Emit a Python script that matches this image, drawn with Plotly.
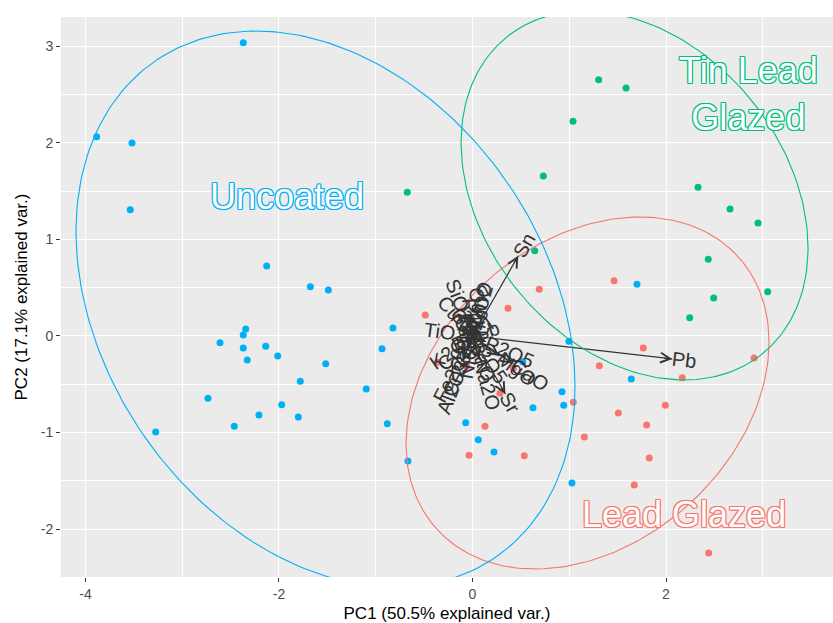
import math
import numpy as np
import plotly.graph_objects as go

# ---------------- data ----------------
uncoated_x = [-2.369, -3.884, -3.519, -3.537, -2.127, -1.676, -1.490, -2.344, -2.369, -2.610,
              -2.369, -2.328, -2.137, -2.013, -1.517, -1.780, -2.734, -1.972, -2.207, -2.462,
              -1.800, -3.274, -1.098, -0.935, -0.822, -0.881, -0.667, 1.700, 0.997, 0.519,
              1.641, 0.925, 0.943, 0.625, -0.070, 0.060, 0.222, 1.028]
uncoated_y = [3.036, 2.063, 1.998, 1.307, 0.725, 0.510, 0.476, 0.072, 0.010, -0.069,
              -0.124, -0.248, -0.107, -0.207, -0.287, -0.469, -0.645, -0.711, -0.818, -0.935,
              -0.839, -0.994, -0.549, -0.131, 0.083, -0.908, -1.294, 0.535, -0.055, -0.266,
              -0.445, -0.577, -0.717, -0.742, -0.898, -1.074, -1.201, -1.522]

tinlead_x = [-0.674, 1.304, 1.587, 1.039, 0.732, 2.331, 2.662, 2.951, 2.437, 0.643, 2.493, 3.051, 2.245]
tinlead_y = [1.488, 2.653, 2.567, 2.223, 1.656, 1.539, 1.315, 1.170, 0.794, 0.883, 0.393, 0.459, 0.189]

lead_x = [1.463, 0.690, 0.367, -0.488, -0.360, 1.765, 1.311, 2.168, 2.910, 1.993, 1.507, 1.800,
          1.042, 1.156, 1.827, 0.129, -0.036, 0.535, 1.672, 2.441, 0.284, 0.422, -0.060]
lead_y = [0.572, 0.483, 0.287, 0.217, -0.272, -0.124, -0.307, -0.432, -0.228, -0.717, -0.797, -0.921,
          -0.686, -1.046, -1.263, -0.935, -1.235, -1.239, -1.542, -2.246, -0.593, -0.334, -0.314]

# variable loadings (arrow tips)
var_names = ["Pb", "Sn", "Sr", "CaO", "MgO", "P2O5", "Na2O", "Al2O3", "Fe2O3", "K2O",
             "TiO2", "SiO2", "CuO", "ZnO", "MnO", "BaO", "Rb", "ZrO2", "Cl", "CoO", "NiO",
             "Cr2O3", "V2O5", "As", "Ag", "Sb", "Bi", "Ga"]
var_x = [2.065, 0.473, 0.340, 0.416, 0.277, 0.140, 0.070, -0.100, -0.060, -0.080,
         -0.060, -0.058, -0.050, 0.010, 0.030, 0.030, -0.010, 0.020, 0.040, -0.030, -0.015,
         -0.020, 0.020, 0.015, -0.010, 0.030, -0.040, -0.020]
var_y = [-0.238, 0.830, -0.600, -0.286, -0.207, -0.060, -0.240, -0.260, -0.114, -0.056,
         0.008, 0.153, 0.060, 0.100, 0.120, -0.080, 0.120, 0.070, 0.030, -0.030, -0.090,
         -0.050, -0.030, 0.040, 0.020, 0.010, -0.020, 0.030]

# group ellipses (centre and covariance of the drawn 68% ellipse)
ell_groups = ["Lead Glazed", "Tin Lead Glazed", "Uncoated"]
ell_cx = [1.189, 1.675, -1.519]
ell_cy = [-0.590, 1.455, 0.279]
ell_sxx = [3.519, 3.215, 6.651]
ell_syy = [3.320, 3.648, 8.283]
ell_sxy = [0.988, -0.978, -2.069]

group_label_text = ["Lead Glazed", "Tin Lead<br>Glazed", "Uncoated"]
group_label_x = [2.184, 2.848, -1.915]
group_label_y = [-1.850, 2.510, 1.449]

colors = {"Lead Glazed": "#F8766D", "Tin Lead Glazed": "#00BF7D", "Uncoated": "#00B0F6"}

x_ticks = [-4, -2, 0, 2]
y_ticks = [-2, -1, 0, 1, 2, 3]
x_range = [-4.253, 3.726]
y_range = [-2.495, 3.302]

# ---------------- layout geometry ----------------
W, H = 833, 623
ML, MR, MT, MB = 61, 0, 17, 46
pxx = (W - ML - MR) / (x_range[1] - x_range[0])
pxy = (H - MT - MB) / (y_range[1] - y_range[0])
FONT = "Liberation Sans, Arial, Helvetica, sans-serif"
VAR_FS = 20
ARROW_COL = "#333333"

fig = go.Figure()

# arrow shafts (drawn first, under the points)
sx, sy = [], []
for vx, vy in zip(var_x, var_y):
    sx += [0, vx, None]
    sy += [0, vy, None]
fig.add_trace(go.Scatter(x=sx, y=sy, mode="lines", line=dict(color=ARROW_COL, width=1.2),
                         showlegend=False, hoverinfo="skip"))

# points
for name, xs, ys in [("Lead Glazed", lead_x, lead_y),
                     ("Tin Lead Glazed", tinlead_x, tinlead_y),
                     ("Uncoated", uncoated_x, uncoated_y)]:
    fig.add_trace(go.Scatter(x=xs, y=ys, mode="markers", name=name,
                             marker=dict(size=7, color=colors[name], line=dict(width=0)),
                             showlegend=False, hoverinfo="skip"))

# ellipses
t = np.linspace(0, 2 * np.pi, 240)
for g, cx, cy, sxx, syy, sxy in zip(ell_groups, ell_cx, ell_cy, ell_sxx, ell_syy, ell_sxy):
    l11 = math.sqrt(sxx)
    l21 = sxy / l11
    l22 = math.sqrt(syy - l21 ** 2)
    ex = cx + l11 * np.cos(t)
    ey = cy + l21 * np.cos(t) + l22 * np.sin(t)
    fig.add_trace(go.Scatter(x=ex, y=ey, mode="lines", line=dict(color=colors[g], width=1.1),
                             showlegend=False, hoverinfo="skip"))

cw = {'P': .667, 'b': .556, 'S': .667, 'n': .556, 'r': .333, 'C': .722, 'a': .556, 'O': .778,
      'M': .833, 'g': .556, '2': .556, '5': .556, 'N': .722, 'A': .667, 'l': .222, '3': .556,
      'F': .611, 'e': .556, 'K': .667, 'T': .611, 'i': .222, 'u': .556, 'Z': .611, 'B': .667,
      'R': .722, 'o': .556, 's': .5, 'V': .667, 'G': .778}

annotations = []
for name, vx, vy in zip(var_names, var_x, var_y):
    # arrow head
    L = math.hypot(vx * pxx, vy * pxy)
    back = min(0.6, 10.0 / L) if L > 0 else 0
    annotations.append(dict(x=vx, y=vy, ax=vx * (1 - back), ay=vy * (1 - back),
                            xref="x", yref="y", axref="x", ayref="y", text="",
                            showarrow=True, arrowhead=5, arrowsize=1.6, arrowwidth=1.2,
                            arrowcolor=ARROW_COL, standoff=0, startstandoff=0))
for name, vx, vy in zip(var_names, var_x, var_y):
    # label rotated along the arrow, starting at the tip
    ang = math.degrees(math.atan(vy / vx))
    wtxt = sum(cw.get(c, .556) for c in name) * VAR_FS
    s = 1 if vx > 0 else -1
    dx_px = s * 0.5 * wtxt * math.cos(math.radians(ang))
    dy_px = s * 0.5 * wtxt * math.sin(math.radians(ang))
    annotations.append(dict(x=vx + dx_px / pxx, y=vy + dy_px / pxy, xref="x", yref="y",
                            text=name, showarrow=False, textangle=-ang,
                            xanchor="center", yanchor="middle",
                            font=dict(family=FONT, size=VAR_FS, color=ARROW_COL)))

# group labels (outlined text)
for g, txt, gx, gy in zip(ell_groups, group_label_text, group_label_x, group_label_y):
    c = colors[g]
    shadow = ", ".join(f"{a}px {b}px 0 {c}" for a, b in
                       [(1, 0), (-1, 0), (0, 1), (0, -1), (1, 1), (-1, -1), (1, -1), (-1, 1)])
    annotations.append(dict(x=gx, y=gy, xref="x", yref="y", text=txt, showarrow=False,
                            xanchor="center", yanchor="middle",
                            font=dict(family=FONT, size=36, color="#FFFFFF", shadow=shadow)))

fig.update_layout(
    width=W, height=H,
    margin=dict(l=ML, r=MR, t=MT, b=MB, pad=0),
    paper_bgcolor="white", plot_bgcolor="#EBEBEB",
    font=dict(family=FONT),
    annotations=annotations,
    showlegend=False,
)
fig.update_xaxes(range=x_range, tickvals=x_ticks, ticktext=[str(v) for v in x_ticks],
                 showgrid=True, gridcolor="white", gridwidth=1.2, zeroline=False,
                 showline=False, ticks="outside", ticklen=4, tickwidth=1, tickcolor="#333333",
                 tickfont=dict(size=14, color="#4D4D4D", family=FONT),
                 minor=dict(showgrid=True, gridcolor="white", gridwidth=0.6, dtick=1, tick0=0),
                 title=dict(text="PC1 (50.5% explained var.)", standoff=8,
                            font=dict(size=17, color="black", family=FONT)),
                 automargin=False)
fig.update_yaxes(range=y_range, tickvals=y_ticks, ticktext=[str(v) for v in y_ticks],
                 showgrid=True, gridcolor="white", gridwidth=1.2, zeroline=False,
                 showline=False, ticks="outside", ticklen=4, tickwidth=1, tickcolor="#333333",
                 tickfont=dict(size=14, color="#4D4D4D", family=FONT),
                 minor=dict(showgrid=True, gridcolor="white", gridwidth=0.6, dtick=0.5, tick0=0),
                 title=dict(text="PC2 (17.1% explained var.)", standoff=8,
                            font=dict(size=17, color="black", family=FONT)),
                 automargin=False)

fig.write_html("out.html")
